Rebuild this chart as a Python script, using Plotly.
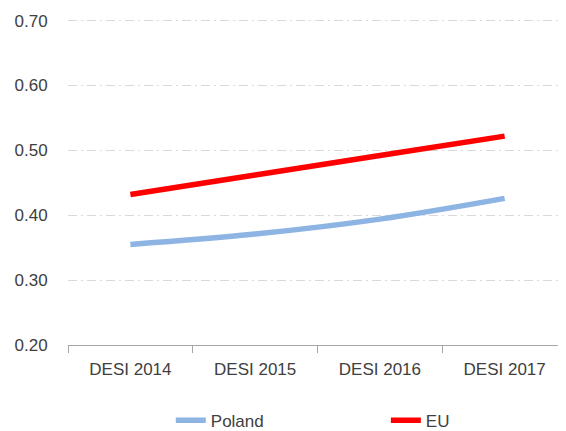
import plotly.graph_objects as go

categories = ["DESI 2014", "DESI 2015", "DESI 2016", "DESI 2017"]
poland = [0.355, 0.371, 0.394, 0.426]
eu = [0.432, 0.462, 0.492, 0.522]
y_ticks = [0.20, 0.30, 0.40, 0.50, 0.60, 0.70]

font = "Liberation Sans, Arial, sans-serif"
fig = go.Figure()
fig.add_trace(go.Scatter(x=categories, y=poland, name="Poland", mode="lines",
                         line=dict(color="#8DB4E2", width=5.5, shape="spline"),
                         legend="legend"))
fig.add_trace(go.Scatter(x=categories, y=eu, name="EU", mode="lines",
                         line=dict(color="#FF0000", width=5.5, shape="spline"),
                         legend="legend2"))

leg_common = dict(orientation="h", yanchor="middle", xanchor="left", y=-0.232,
                  font=dict(size=17, color="#404040"), bgcolor="rgba(0,0,0,0)",
                  borderwidth=0)
fig.update_layout(
    width=566, height=431,
    margin=dict(l=60, r=7, t=11, b=94, autoexpand=False),
    paper_bgcolor="white", plot_bgcolor="white",
    font=dict(family=font, size=17, color="#404040"),
    showlegend=True,
    legend=dict(x=0.206, **leg_common),
    legend2=dict(x=0.637, **leg_common),
)
fig.update_xaxes(type="category", range=[-0.5, 3.5], showgrid=False, automargin=False,
                 showline=True, linecolor="#A6A6A6", linewidth=1.2,
                 ticks="outside", tickson="boundaries", ticklen=7, tickcolor="#A6A6A6",
                 tickwidth=1.2, tickfont=dict(size=17), ticklabelstandoff=8,
                 fixedrange=True)
fig.update_yaxes(range=[0.2, 0.7025], tickvals=y_ticks, tickformat=".2f", automargin=False,
                 showgrid=True, gridcolor="#D9D9D9", griddash="9px,4px,2px,4px", gridwidth=1.2,
                 zeroline=False, showline=False, ticks="outside", ticklen=16,
                 tickcolor="rgba(0,0,0,0)", tickfont=dict(size=17))
fig.write_html("out.html")
